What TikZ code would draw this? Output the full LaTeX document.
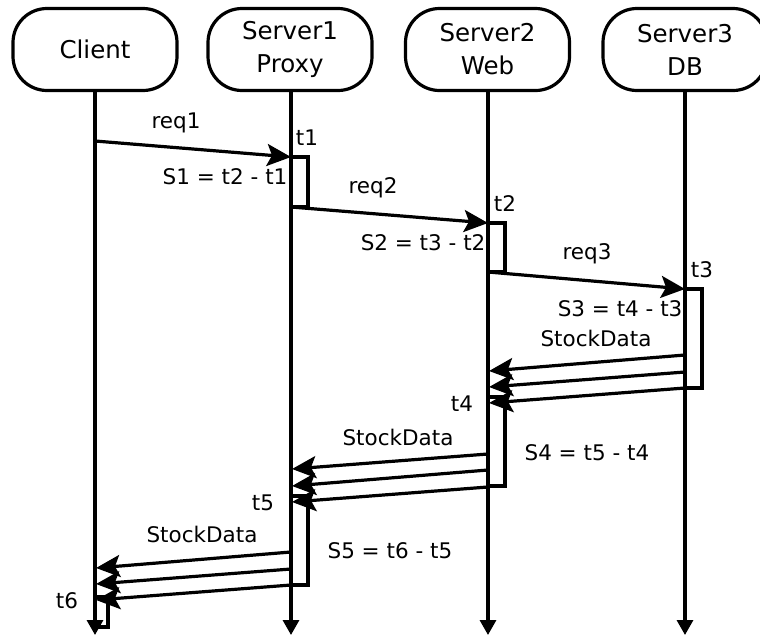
\documentclass[tikz,border=0pt]{standalone}
\usepackage{fontspec}
\setmainfont{DejaVu Sans}
\usetikzlibrary{arrows.meta}
\begin{document}
\begin{tikzpicture}[x=1pt,y=-1pt,
  line width=3.2pt,
  actor/.style={draw, rounded corners=34pt, minimum width=164pt, minimum height=82pt,
    align=center, inner sep=0pt, font=\fontsize{24.5}{33}\selectfont},
  lbl/.style={inner sep=0pt, font=\fontsize{21.5}{26}\selectfont},
  msg/.style={-{Stealth[length=24pt,width=22pt,inset=5pt]}},
  life/.style={-{Triangle[length=15pt,width=16pt]}},
  bar/.style={draw, line width=3.2pt}]
\useasboundingbox (0,0) rectangle (760,635);
\begin{scope}
\clip (0,0) rectangle (760,635);

% participants
\node[actor] (client) at (95,49.5)  {Client};
\node[actor] (proxy)  at (290,49.5) {Server1\\Proxy};
\node[actor] (web)    at (487.5,49.5) {Server2\\Web};
\node[actor] (db)     at (685,49.5) {Server3\\DB};

% lifeline ends
\coordinate (cE) at (95,635);
\coordinate (pE) at (291,635);
\coordinate (wE) at (488,635);
\coordinate (dE) at (685,635);
\draw[life] (client.south -| cE) -- (cE);
\draw[life] (proxy.south -| pE) -- (pE);
\draw[life] (web.south -| wE) -- (wE);
\draw[life] (db.south -| dE) -- (dE);

% activation bars
\draw[bar] (291,157) rectangle (308,207);
\draw[bar] (488,223) rectangle (505,272);
\draw[bar] (685,289) rectangle (702,388);
\draw[bar] (488,397) rectangle (505,486);
\draw[bar] (291,496) rectangle (308,585);
\draw[bar] (95,597)  rectangle (108,627);

% requests
\coordinate (r1a) at (95,141);  \coordinate (r1b) at (291,157);
\coordinate (r2a) at (291,207); \coordinate (r2b) at (488,223);
\coordinate (r3a) at (488,272); \coordinate (r3b) at (685,289);
\draw[msg] (r1a) -- (r1b);
\draw[msg] (r2a) -- (r2b);
\draw[msg] (r3a) -- (r3b);

% responses DB -> Web
\coordinate (d1a) at (685,355); \coordinate (d1b) at (489,371);
\coordinate (d2a) at (685,372); \coordinate (d2b) at (489,387);
\coordinate (d3a) at (685,388); \coordinate (d3b) at (489,403);
\draw[msg] (d1a) -- (d1b);
\draw[msg] (d2a) -- (d2b);
\draw[msg] (d3a) -- (d3b);

% responses Web -> Proxy
\coordinate (w1a) at (488,454); \coordinate (w1b) at (292,469);
\coordinate (w2a) at (488,470); \coordinate (w2b) at (292,486);
\coordinate (w3a) at (488,487); \coordinate (w3b) at (292,502);
\draw[msg] (w1a) -- (w1b);
\draw[msg] (w2a) -- (w2b);
\draw[msg] (w3a) -- (w3b);

% responses Proxy -> Client
\coordinate (p1a) at (291,552); \coordinate (p1b) at (96,568);
\coordinate (p2a) at (291,569); \coordinate (p2b) at (96,584);
\coordinate (p3a) at (291,585); \coordinate (p3b) at (96,600);
\draw[msg] (p1a) -- (p1b);
\draw[msg] (p2a) -- (p2b);
\draw[msg] (p3a) -- (p3b);

% labels
\node[lbl] (lreq1) at (176,123) {req1};
\node[lbl] (lreq2) at (373,188) {req2};
\node[lbl] (lreq3) at (587,254) {req3};
\node[lbl] (lt1) at (307,138) {t1};
\node[lbl] (lt2) at (505,204) {t2};
\node[lbl] (lt3) at (702,270) {t3};
\node[lbl] (lt4) at (462,404) {t4};
\node[lbl] (lt5) at (263,503) {t5};
\node[lbl] (lt6) at (67,601) {t6};
\node[lbl, anchor=east] (ls1) at (289,177) {S1 = t2 - t1};
\node[lbl, anchor=east] (ls2) at (487,243) {S2 = t3 - t2};
\node[lbl, anchor=east] (ls3) at (684,309) {S3 = t4 - t3};
\node[lbl, anchor=west] (ls4) at (523,453) {S4 = t5 - t4};
\node[lbl, anchor=west] (ls5) at (326,551) {S5 = t6 - t5};
\node[lbl] (lsd1) at (596,338) {StockData};
\node[lbl] (lsd2) at (398,437) {StockData};
\node[lbl] (lsd3) at (202,534) {StockData};
\end{scope}
\end{tikzpicture}
\end{document}
